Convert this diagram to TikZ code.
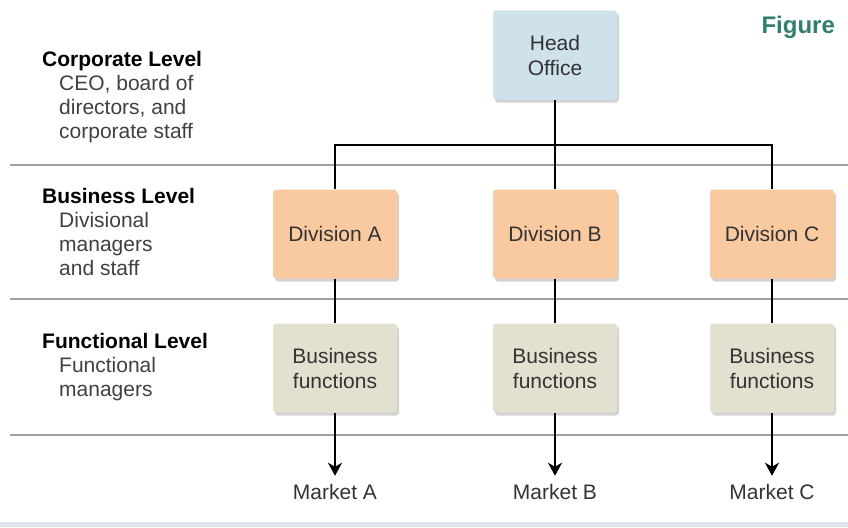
\documentclass[tikz,border=0pt]{standalone}
\usepackage{fontspec}
\setmainfont{Liberation Sans}
\usetikzlibrary{shadows,arrows.meta}

\definecolor{headblue}{HTML}{CFE2EC}
\definecolor{divorange}{HTML}{F9C9A0}
\definecolor{funcbeige}{HTML}{E3E0D0}
\definecolor{rulegrey}{HTML}{9EA2A4}
\definecolor{figgreen}{HTML}{2F7F6A}
\definecolor{bandblue}{HTML}{DCE6EA}

\begin{document}
\begin{tikzpicture}[x=1pt,y=-1pt,
    font={\fontsize{21}{25}\selectfont},
    unitbox/.style={rounded corners=3pt, minimum width=124pt, minimum height=89pt,
      align=center, text=black!80,
      drop shadow={shadow xshift=2pt,shadow yshift=-3pt,opacity=.35}},
    levelnote/.style={anchor=north west, inner sep=0pt, align=left, text=black!75,
      font={\fontsize{21}{24}\selectfont}},
    link/.style={draw, line width=2.8pt}]

  \useasboundingbox (0,0) rectangle (848,527);

  % level rules and bottom band
  \fill[bandblue] (0,522) rectangle (848,527);
  \foreach \y in {165,299,435}
    \draw[rulegrey, line width=1.8pt] (10,\y) -- (848,\y);

  % level descriptions
  \node[levelnote] (corp) at (42,51)
    {\textbf{\color{black}Corporate Level}\\\hspace*{17pt}CEO, board of\\\hspace*{17pt}directors, and\\\hspace*{17pt}corporate staff};
  \node[levelnote] (busi) at (42,188)
    {\textbf{\color{black}Business Level}\\\hspace*{17pt}Divisional\\\hspace*{17pt}managers\\\hspace*{17pt}and staff};
  \node[levelnote] (func) at (42,333)
    {\textbf{\color{black}Functional Level}\\\hspace*{17pt}Functional\\\hspace*{17pt}managers};

  \node[anchor=west, text=figgreen, font={\fontsize{24}{28}\selectfont\bfseries}] (fig) at (758,27) {Figure};

  \begin{scope}[every node/.style={unitbox}]
    \node[fill=headblue]  (head) at (555,55)  {Head\\Office};
    \node[fill=divorange] (divA) at (335,234) {Division A};
    \node[fill=divorange] (divB) at (555,234) {Division B};
    \node[fill=divorange] (divC) at (772,234) {Division C};
    \node[fill=funcbeige] (funA) at (335,368) {Business\\functions};
    \node[fill=funcbeige] (funB) at (555,368) {Business\\functions};
    \node[fill=funcbeige] (funC) at (772,368) {Business\\functions};
  \end{scope}

  \begin{scope}[every node/.style={text=black!80}]
    \node (mktA) at (335,492) {Market A};
    \node (mktB) at (555,492) {Market B};
    \node (mktC) at (772,492) {Market C};
  \end{scope}

  \coordinate (bus) at (0,145);

  % tree lines
  \path[link] (divA.north) -- (divA.north |- bus) -- (divC.north |- bus) -- (divC.north);
  \path[link] (head.south) -- (divB.north);
  \path[link] (divA.south) -- (funA.north);
  \path[link] (divB.south) -- (funB.north);
  \path[link] (divC.south) -- (funC.north);

  \begin{scope}[every path/.style={link, -{Stealth[length=13pt,width=14pt,inset=4pt]}, shorten >=5pt}]
    \path (funA) edge (mktA);
    \path (funB) edge (mktB);
    \path (funC) edge (mktC);
  \end{scope}

\end{tikzpicture}
\end{document}
